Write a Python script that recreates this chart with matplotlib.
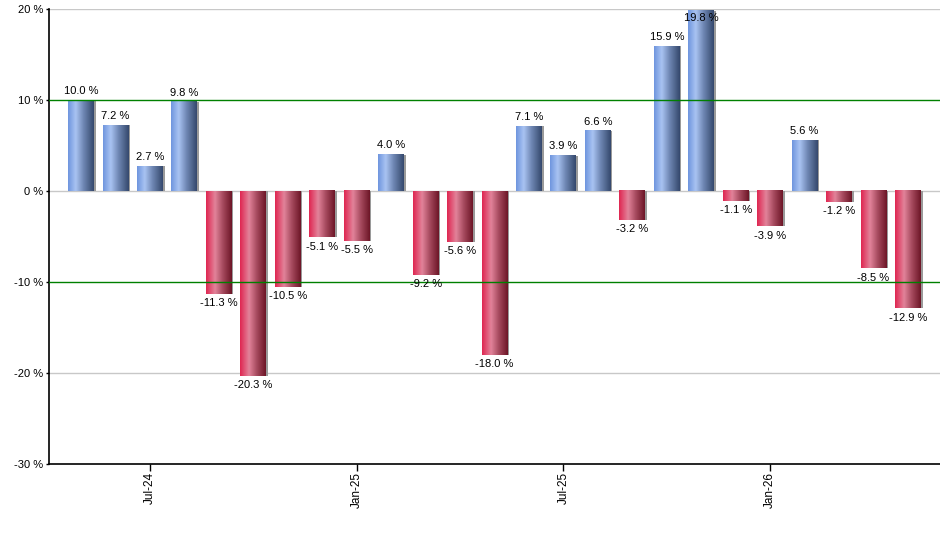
import matplotlib
matplotlib.use("Agg")
import matplotlib.pyplot as plt
import numpy as np
from matplotlib.colors import LinearSegmentedColormap

months = ["May-24", "Jun-24", "Jul-24", "Aug-24", "Sep-24", "Oct-24", "Nov-24", "Dec-24",
          "Jan-25", "Feb-25", "Mar-25", "Apr-25", "May-25", "Jun-25", "Jul-25", "Aug-25",
          "Sep-25", "Oct-25", "Nov-25", "Dec-25", "Jan-26", "Feb-26", "Mar-26", "Apr-26", "May-26"]
values = [10.0, 7.2, 2.7, 9.8, -11.3, -20.3, -10.5, -5.1, -5.5, 4.0, -9.2, -5.6, -18.0,
          7.1, 3.9, 6.6, -3.2, 15.9, 19.8, -1.1, -3.9, 5.6, -1.2, -8.5, -12.9]
tick_months = ["Jul-24", "Jan-25", "Jul-25", "Jan-26"]
yticks = [20, 10, 0, -10, -20, -30]

plt.rcParams['font.family'] = ['Liberation Sans', 'DejaVu Sans']

fig = plt.figure(figsize=(9.4, 5.5), dpi=100)
ax = fig.add_axes([0.0521, 0.1564, 0.9479, 0.8272])

x = np.arange(len(values))
ymin, ymax = -30, 20
ax.set_xlim(-0.93, len(values) - 1 + 0.93)
ax.set_ylim(ymin, ymax)

blue_cmap = LinearSegmentedColormap.from_list(
    "b", [(0.0, "#6e95de"), (0.3, "#a9c3f2"), (0.6, "#6f87b4"), (1.0, "#34486c")])
red_cmap = LinearSegmentedColormap.from_list(
    "r", [(0.0, "#df2550"), (0.35, "#e2839a"), (0.65, "#a64a5e"), (1.0, "#6c1526")])

width = 0.75
# shadow
ax.bar(x + 0.05, values, width=width, color="#9a9a9a", zorder=1.5, linewidth=0)
bars = ax.bar(x, values, width=width, color="none", linewidth=0, zorder=2)
grad = np.linspace(0, 1, 256).reshape(1, -1)
for b, v in zip(bars, values):
    x0 = b.get_x()
    x1 = x0 + b.get_width()
    y0, y1 = (0, v) if v >= 0 else (v, 0)
    cmap = blue_cmap if v >= 0 else red_cmap
    ax.imshow(grad, cmap=cmap, aspect="auto", extent=(x0, x1, y0, y1),
              zorder=2, interpolation="bilinear")

for xi, v in zip(x, values):
    label = f"{v:.1f} %"
    if v >= 0:
        if v + 2.0 > ymax:
            ax.annotate(label, (xi, ymax), xytext=(0, -3), textcoords="offset points",
                        ha="center", va="top", fontsize=8, zorder=4)
        else:
            ax.annotate(label, (xi, v), xytext=(0, 3), textcoords="offset points",
                        ha="center", va="bottom", fontsize=8, zorder=4)
    else:
        ax.annotate(label, (xi, v), xytext=(0, -3), textcoords="offset points",
                    ha="center", va="top", fontsize=8, zorder=4)

for yv in yticks:
    if yv in (10, -10):
        ax.axhline(yv, color="#008000", linewidth=1, zorder=3)
    elif yv != ymin:
        ax.axhline(yv, color="#c8c8c8", linewidth=1, zorder=1)

ax.set_yticks(yticks)
ax.set_yticklabels([f"{t} %" for t in yticks], fontsize=8)
tick_pos = [months.index(m) for m in tick_months]
ax.set_xticks(tick_pos)
ax.set_xticklabels(tick_months, rotation=90, fontsize=8.5)
ax.tick_params(axis="x", length=5, width=1, pad=1)
ax.tick_params(axis="y", length=2, width=1, pad=2)

for s in ["top", "right"]:
    ax.spines[s].set_visible(False)
for s in ["left", "bottom"]:
    ax.spines[s].set_linewidth(1.2)
    ax.spines[s].set_color("black")

fig.savefig("out.png", dpi=100)
